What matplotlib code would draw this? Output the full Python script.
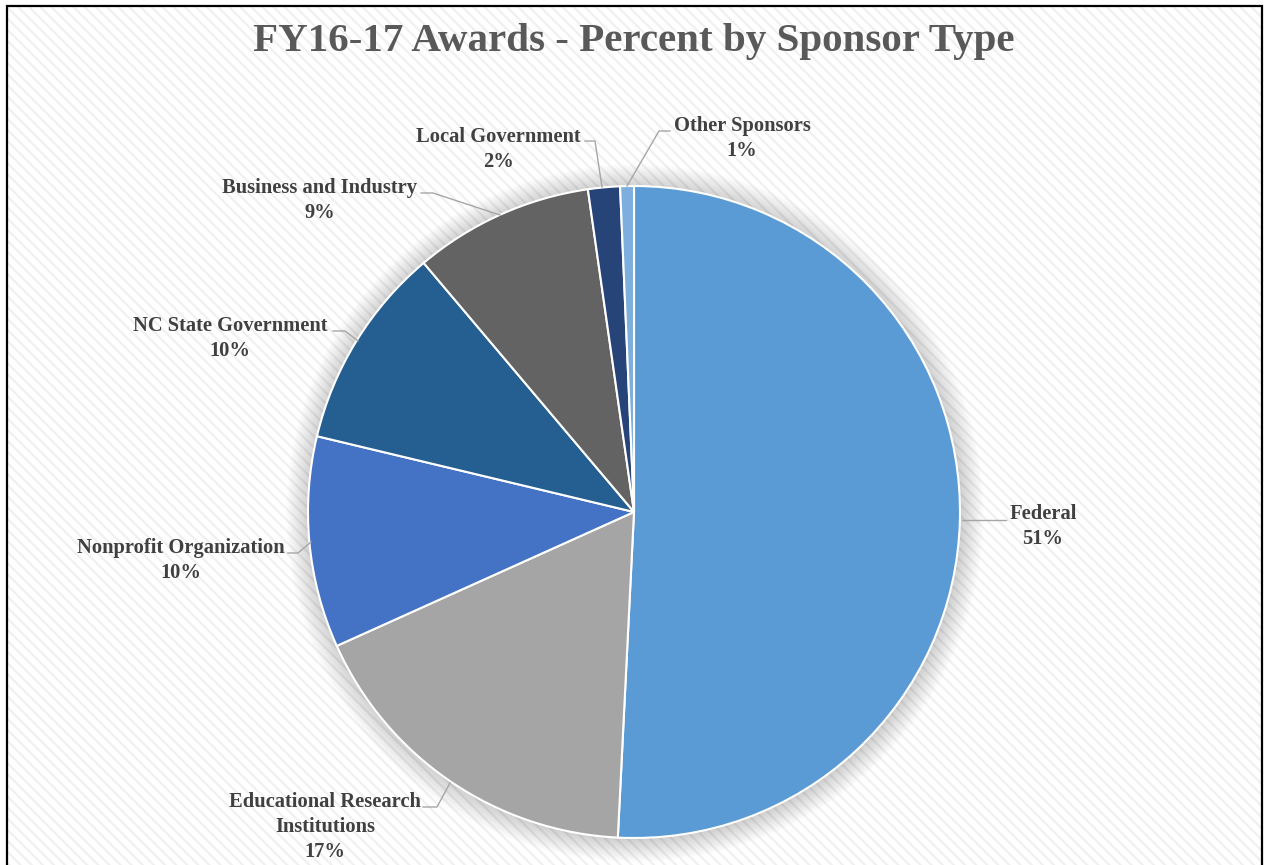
import matplotlib
matplotlib.use("Agg")
import matplotlib.pyplot as plt
from matplotlib.patches import Rectangle, Circle

# ---- data ----
categories = ["Federal", "Educational Research\nInstitutions", "Nonprofit Organization",
              "NC State Government", "Business and Industry", "Local Government", "Other Sponsors"]
values = [50.78, 17.47, 10.47, 10.10, 8.90, 1.58, 0.68]
colors = ["#5B9BD5", "#A5A5A5", "#4472C4", "#255E91", "#636363", "#264478", "#7CAFDD"]
title = "FY16-17 Awards - Percent by Sponsor Type"

W, H = 1266, 865
def Y(y):
    return H - y

plt.rcParams['hatch.linewidth'] = 1.6

fig = plt.figure(figsize=(W / 100, H / 100), dpi=100)
fig.patch.set_facecolor("white")
ax = fig.add_axes([0, 0, 1, 1])

# background with diagonal hatch and border
bg = Rectangle((7, Y(880)), 1255, 874, facecolor="white", edgecolor="#F0F0F0",
               linewidth=0, hatch="\\\\\\", zorder=0)
ax.add_patch(bg)
border = Rectangle((7, Y(880)), 1255, 874, facecolor="none", edgecolor="black",
                   linewidth=1.6, zorder=10)
ax.add_patch(border)

cx, cy, r = 634, Y(512), 326

# soft shadow
for k in range(24):
    ax.add_patch(Circle((cx + 1, cy - 1), r + k * 1.0, facecolor="black",
                        edgecolor="none", alpha=0.009, zorder=1))
ax.add_patch(Circle((cx, cy), r, facecolor="white", edgecolor="none", zorder=1.5))

wedges, _ = ax.pie(values, colors=colors, startangle=90, counterclock=False,
                   center=(cx, cy), radius=r,
                   wedgeprops=dict(edgecolor="white", linewidth=1.5))
for w in wedges:
    w.set_zorder(2)

ax.set_xlim(0, W)
ax.set_ylim(0, H)
ax.set_aspect("equal", adjustable="box")
ax.axis("off")

# labels: (text center x, first-line center y, leader polyline points)
label_pos = [
    (1043, 513, [(962, 520), (1006, 520)]),
    (325, 801, [(450, 783), (437, 807), (423, 807)]),
    (181, 547, [(311, 542), (298, 553), (288, 553)]),
    (230, 325, [(358, 341), (345, 331), (333, 331)]),
    (320, 187, [(500, 215), (433, 193), (421, 193)]),
    (498, 136, [(602, 187), (595, 141), (585, 141)]),
    (742, 125, [(627, 186), (659, 131), (670, 131)]),
]

lab_font = dict(family=["Liberation Serif", "DejaVu Serif"], weight="bold",
                size=14.8, color="#404040")
for cat, v, (tx, ty, pts) in zip(categories, values, label_pos):
    txt = f"{cat}\n{round(v):d}%"
    ax.text(tx, Y(ty - 9), txt, ha="center", va="top",
            linespacing=1.34, zorder=5, **lab_font)
    xs = [p[0] for p in pts]
    ys = [Y(p[1]) for p in pts]
    ax.plot(xs, ys, color="#A6A6A6", linewidth=1.0, zorder=4)

ax.text(634, Y(41), title, ha="center", va="center",
        family=["Liberation Serif", "DejaVu Serif"], weight="bold", size=29.5,
        color="#595959", zorder=5)

fig.savefig("out.png", dpi=100, facecolor="white")
